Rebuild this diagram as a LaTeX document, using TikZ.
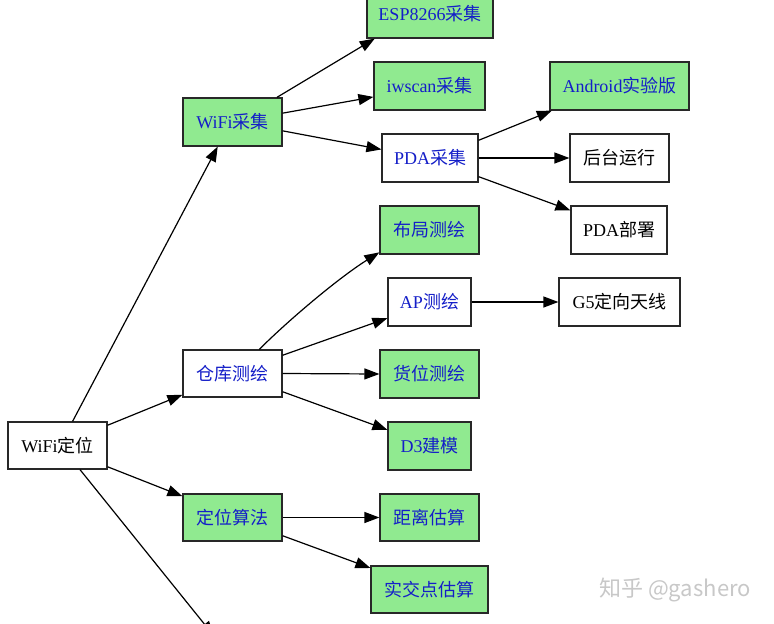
\documentclass[tikz,border=0pt]{standalone}
\usepackage{fontspec}
\setmainfont{Liberation Serif}
\newfontfamily\cjk{Noto Sans CJK SC}
\usetikzlibrary{arrows.meta}
\definecolor{gfill}{RGB}{144,234,144}
\definecolor{tblue}{RGB}{20,30,200}
\definecolor{wmgray}{RGB}{200,200,200}
\definecolor{bord}{RGB}{40,40,40}
\begin{document}
\begin{tikzpicture}[x=1pt,y=-1pt,
  font=\fontsize{18}{20}\selectfont,
  basebox/.style={draw=bord, line width=1.2pt, inner sep=0pt, minimum height=48pt},
  gbox/.style={basebox, fill=gfill, text=tblue},
  wbbox/.style={basebox, fill=white, text=tblue},
  wbox/.style={basebox, fill=white, text=black},
  edge/.style={-{Triangle[length=15pt,width=11pt]}, line width=1.2pt, black}]
\clip (0,0) rectangle (774,624);
\fill[white] (0,0) rectangle (774,624);

\node[wbox, minimum width=99pt, minimum height=47pt] (loc) at (57.5,445.5) {WiFi{\cjk 定位}};
\node[gbox, minimum width=99pt] (wc) at (232.5,122) {WiFi{\cjk 采集}};
\node[wbbox, minimum width=99pt, minimum height=47pt] (ck) at (232.5,373.5) {{\cjk 仓库测绘}};
\node[gbox, minimum width=99pt, minimum height=47pt] (dw) at (232.5,517.5) {{\cjk 定位算法}};

\node[gbox, minimum width=126pt] (esp) at (430,14) {ESP8266{\cjk 采集}};
\node[gbox, minimum width=111pt] (iw) at (429.5,86) {iwscan{\cjk 采集}};
\node[wbbox, minimum width=96pt] (pda) at (430,158) {PDA{\cjk 采集}};
\node[gbox, minimum width=99pt] (lay) at (429.5,230) {{\cjk 布局测绘}};
\node[wbbox, minimum width=83pt] (ap) at (429.5,302) {AP{\cjk 测绘}};
\node[gbox, minimum width=99pt] (hw) at (429.5,374) {{\cjk 货位测绘}};
\node[gbox, minimum width=83pt] (d3) at (429.5,446) {D3{\cjk 建模}};
\node[gbox, minimum width=99pt, minimum height=47pt] (jl) at (429.5,517.5) {{\cjk 距离估算}};
\node[gbox, minimum width=117pt, minimum height=47pt] (sj) at (429.5,589.5) {{\cjk 实交点估算}};

\node[gbox, minimum width=139pt] (andr) at (619.5,86) {Android{\cjk 实验版}};
\node[wbox, minimum width=99pt] (bg) at (619.5,158) {{\cjk 后台运行}};
\node[wbox, minimum width=96pt] (pb) at (619,230) {PDA{\cjk 部署}};
\node[wbox, minimum width=121pt] (g5) at (619.5,302) {G5{\cjk 定向天线}};

\coordinate (off) at (214,636);

\draw[edge] (loc.58) -- (wc.239);
\draw[edge] (loc.22.5) -- (ck.203.5);
\draw[edge] (loc.-23) -- (dw.157.5);
\draw[edge] (loc.-47.5) -- (off);

\draw[edge] (wc.29.5) -- (esp.204.8);
\draw[edge] (wc.10.3) -- (iw.191.2);
\draw[edge] (wc.-10.3) -- (pda.170.5);

\draw[edge] (pda.20.6) -- (andr.200.4);
\draw[edge] (pda.east) -- (bg.west);
\draw[edge] (pda.-21.6) -- (pb.158.4);

\draw[edge] (ck.42.7) .. controls +(30,-30) and +(-40,25) .. (lay.204.9);
\draw[edge] (ck.20.5) -- (ap.201);
\draw[edge] (ck.east) -- (hw.west);
\draw[edge] (ck.-20.5) -- (d3.159);
\draw[edge] (ap.east) -- (g5.west);

\draw[edge] (dw.east) -- (jl.west);
\draw[edge] (dw.-20.5) -- (sj.160.7);

\node[text=wmgray, font=\cjk\fontsize{22}{25}\selectfont] (wmk) at (675,590) {知乎 @gashero};
\end{tikzpicture}
\end{document}
